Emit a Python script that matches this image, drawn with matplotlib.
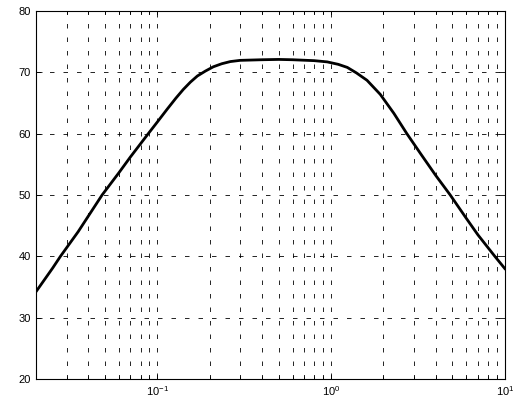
import matplotlib
matplotlib.use("Agg")
import matplotlib.pyplot as plt
from matplotlib.ticker import LogLocator, FixedLocator, NullFormatter

plt.rcParams['font.family'] = ['Liberation Sans', 'DejaVu Sans']
plt.rcParams['mathtext.fontset'] = 'custom'
plt.rcParams['mathtext.rm'] = 'Liberation Sans'
plt.rcParams['mathtext.it'] = 'Liberation Sans'

freq = [0.02, 0.025, 0.0277, 0.035, 0.0481, 0.06, 0.07, 0.0887, 0.1, 0.114, 0.128, 0.141,
        0.155, 0.17, 0.189, 0.21, 0.235, 0.263, 0.3, 0.4, 0.5, 0.6, 0.8, 0.95, 1.1, 1.24, 1.4,
        1.61, 1.92, 2.3, 2.73, 3.3, 4.0, 4.85, 6.0, 7.0, 8.76, 10.0]
gain = [34.2, 38.1, 40.0, 44.0, 50.0, 53.6, 56.2, 60.0, 61.9, 64.0, 65.8, 67.2,
        68.4, 69.4, 70.2, 70.9, 71.4, 71.75, 71.95, 72.05, 72.1, 72.05, 71.9, 71.7, 71.3, 70.8, 69.9,
        68.7, 66.4, 63.3, 60.0, 56.6, 53.2, 50.0, 46.2, 43.5, 40.0, 38.0]
y_ticks = [20, 30, 40, 50, 60, 70, 80]

fig = plt.figure(figsize=(5.13, 4.07), dpi=100)
ax = fig.add_axes([0.070, 0.069, 0.914, 0.904])
ax.semilogx(freq, gain, color='black', lw=2.0)
ax.set_xlim(0.02, 10)
ax.set_ylim(20, 80)
ax.yaxis.set_major_locator(FixedLocator(y_ticks))
ax.xaxis.set_major_locator(LogLocator(base=10, numticks=10))
ax.xaxis.set_minor_locator(LogLocator(base=10, subs=range(2, 10), numticks=20))
ax.xaxis.set_minor_formatter(NullFormatter())

grid_style = dict(color='black', linestyle=(0, (5.4, 10.8)), linewidth=0.6)
ax.grid(True, which='major', axis='both', **grid_style)
ax.grid(True, which='minor', axis='x', **grid_style)

ax.tick_params(which='both', direction='in', top=True, right=True, labelsize=8, width=0.6)
ax.tick_params(which='major', length=4)
ax.tick_params(which='minor', length=2.5)
for s in ax.spines.values():
    s.set_linewidth(0.8)

fig.savefig('out.png', dpi=100)
